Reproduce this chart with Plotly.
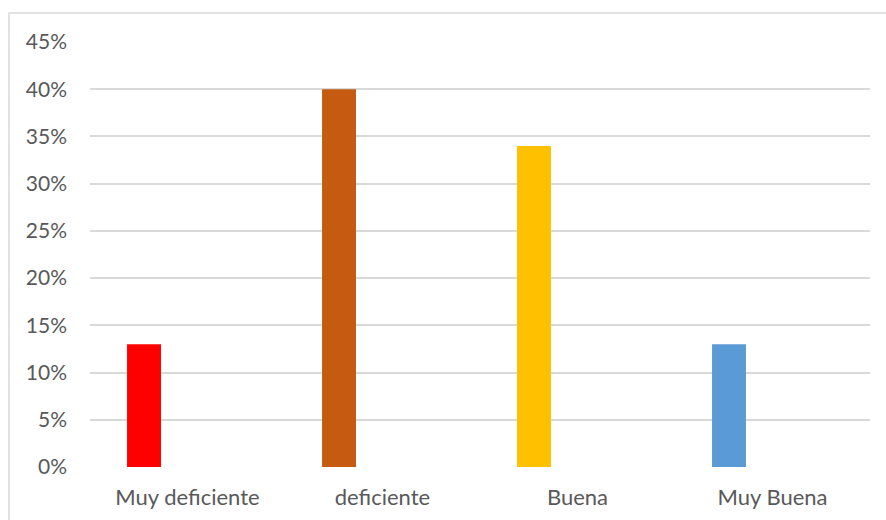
import plotly.graph_objects as go

categories = ["Muy deficiente", "deficiente", "Buena", "Muy Buena"]
values = [0.13, 0.40, 0.34, 0.13]
colors = ["#FF0000", "#C55A11", "#FFC000", "#5B9BD5"]
y_ticks = [0, 0.05, 0.10, 0.15, 0.20, 0.25, 0.30, 0.35, 0.40, 0.45]

fig = go.Figure()
fig.add_trace(go.Bar(
    x=categories, y=values,
    marker=dict(color=colors, line=dict(width=0)),
    width=0.174, offset=-0.31,
    hoverinfo="x+y",
))

xfont = dict(family="Lato, 'Open Sans', sans-serif", size=22, color="#595959")
yfont = dict(family="Lato, 'Open Sans', sans-serif", size=21, color="#595959")

fig.update_layout(
    width=886, height=520,
    margin=dict(l=90, r=16, t=42, b=53),
    paper_bgcolor="white", plot_bgcolor="white",
    showlegend=False,
    font=xfont,
    xaxis=dict(
        range=[-0.5, 3.5], showgrid=False, zeroline=False, showline=False,
        ticks="", tickfont=xfont, ticklabelstandoff=15, automargin=False,
    ),
    yaxis=dict(
        range=[0, 0.45], tickvals=y_ticks, tickformat=".0%",
        showgrid=True, gridcolor="#D9D9D9", gridwidth=1.5,
        zeroline=False, showline=False, ticks="",
        tickfont=yfont, ticklabelstandoff=22, automargin=False,
    ),
    shapes=[dict(
        type="rect", xref="paper", yref="paper",
        x0=(9 - 90) / 780, x1=(900 - 90) / 780,
        y0=(467 - 540) / 425, y1=(467 - 13) / 425,
        line=dict(color="#D9D9D9", width=1.5), fillcolor="rgba(0,0,0,0)",
        layer="below",
    )],
)

fig.write_html("out.html")
